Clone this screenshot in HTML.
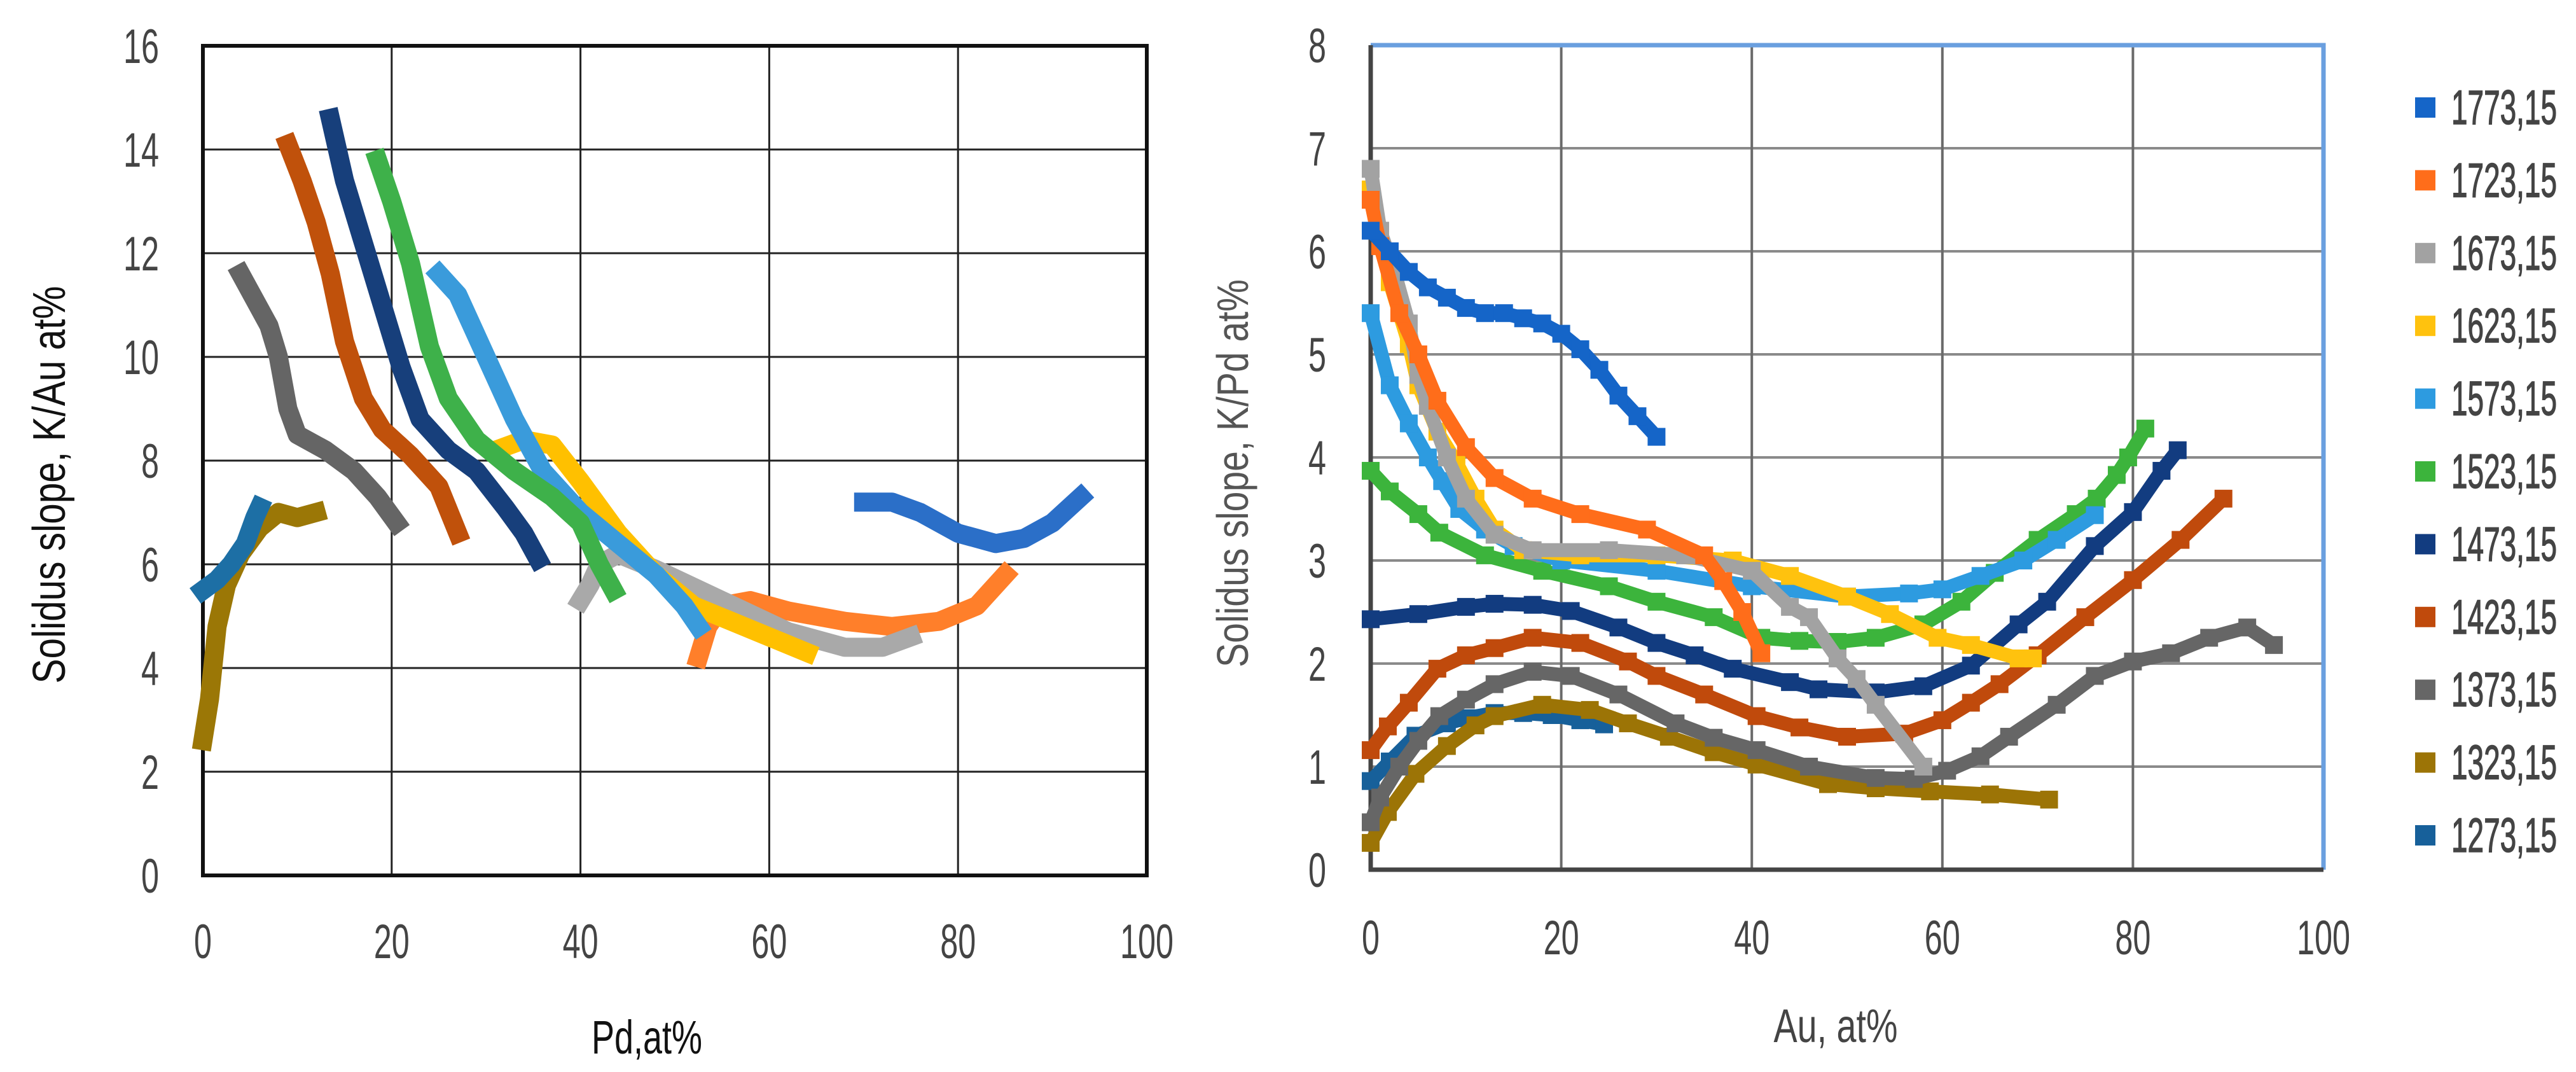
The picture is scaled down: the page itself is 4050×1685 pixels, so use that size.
<!DOCTYPE html>
<html><head><meta charset="utf-8"><style>
html,body{margin:0;padding:0;background:#fff;}
svg{display:block;}
text{font-family:"Liberation Sans Narrow","Liberation Sans",sans-serif;}
</style></head><body>
<svg id="fig" width="4050" height="1685" viewBox="0 0 4050 1685" xmlns="http://www.w3.org/2000/svg">
<rect x="0" y="0" width="4050" height="1685" fill="#fff"/>
<g id="left"></g>
<g id="right"></g>
</svg>
<script>
// ---------- Left chart data (Pd, at% vs slope K/Au at%) ----------
const leftSeriesNames = ["1773,15","1723,15","1673,15","1623,15","1573,15","1523,15","1473,15","1423,15","1373,15","1323,15","1273,15"];
const leftX1773 = [70,73,76,80,84,87,90,93];
const leftY1773 = [7.2,7.2,7.0,6.6,6.4,6.5,6.8,7.3];
const leftX1723 = [52.5,53.5,55,58,62,68,73,78,82,85];
const leftY1723 = [4.2,4.8,5.2,5.3,5.1,4.9,4.8,4.9,5.2,5.8];
const leftX1673 = [40,41,42,44,48,55,62,68,72,75];
const leftY1673 = [5.3,5.6,6.0,6.2,5.9,5.3,4.7,4.4,4.4,4.6];
const leftX1623 = [31,34,37,40,44,48,52,56,60,64];
const leftY1623 = [8.2,8.4,8.3,7.6,6.6,5.8,5.2,4.9,4.6,4.3];
const leftX1573 = [25,27,30,33,36,40,44,48,51,52.5];
const leftY1573 = [11.6,11.2,10.0,8.8,7.8,7.0,6.4,5.8,5.2,4.8];
const leftX1523 = [18.5,20,22,24,26,29,33,37,40,42,43.5];
const leftY1523 = [13.8,13.0,11.8,10.2,9.2,8.4,7.8,7.3,6.8,6.0,5.5];
const leftX1473 = [13.5,15,17,19,21,23,26,29,32,34,35.5];
const leftY1473 = [14.6,13.4,12.2,11.0,9.8,8.8,8.2,7.8,7.1,6.6,6.1];
const leftX1423 = [9,10.5,12,13.5,15,17,19,22,25,27];
const leftY1423 = [14.1,13.4,12.6,11.6,10.3,9.2,8.6,8.1,7.5,6.6];
const leftX1373 = [4,5.5,7,8,9,10,13,16,18.5,20.5];
const leftY1373 = [11.6,11.1,10.6,10.0,9.0,8.5,8.2,7.8,7.3,6.8];
const leftX1323 = [0,0.7,1.5,2.5,4,6,8,10,12];
const leftY1323 = [2.6,3.4,4.8,5.6,6.2,6.7,7.0,6.9,7.0];
const leftX1273 = [0,1.5,3,4.5,5.5,6];
const leftY1273 = [5.5,5.7,6.0,6.4,6.9,7.1];
const leftXTicks = ["0","20","40","60","80","100"];
const leftYTicks = ["0","2","4","6","8","10","12","14","16"];

// ---------- Right chart data (Au, at% vs slope K/Pd at%) ----------
const rightSeriesNames = ["1773,15","1723,15","1673,15","1623,15","1573,15","1523,15","1473,15","1423,15","1373,15","1323,15","1273,15"];
const rightX1773 = [0,2,4,6,8,10,12,14,16,18,20,22,24,26,28,30];
const rightY1773 = [6.2,6.0,5.8,5.65,5.55,5.45,5.4,5.4,5.35,5.3,5.2,5.05,4.85,4.6,4.4,4.2];
const rightX1723 = [0,1,3,5,7,10,13,17,22,29,35,37,39,41];
const rightY1723 = [6.5,6.05,5.4,5.0,4.55,4.1,3.8,3.6,3.45,3.3,3.05,2.8,2.5,2.1];
const rightX1673 = [0,1,2.5,4,5,6,8,10,13,17,25,33,40,44,46,49,51,53,58];
const rightY1673 = [6.8,6.2,5.8,5.3,4.8,4.5,4.0,3.6,3.25,3.1,3.1,3.05,2.9,2.55,2.45,2.05,1.85,1.6,1.0];
const rightX1623 = [0,2,4,5,7,9,11,13,16,22,30,38,44,50,54.5,59.5,63,68,69.5];
const rightY1623 = [6.6,5.7,5.1,4.7,4.25,3.95,3.6,3.3,3.1,3.05,3.05,3.0,2.85,2.65,2.48,2.25,2.18,2.05,2.05];
const rightX1573 = [0,2,4,6,7.5,9.3,12,15,20,30,40,50,56.5,60,64,68.5,72,76];
const rightY1573 = [5.4,4.7,4.33,4.0,3.77,3.5,3.3,3.14,3.0,2.9,2.75,2.65,2.68,2.72,2.85,3.0,3.2,3.44];
const rightX1523 = [0,2,5,7.2,12,18,25,30,36,41,45,49,53,58,62,65.5,70,74,76.2,78.3,79.5,81.3];
const rightY1523 = [3.87,3.67,3.45,3.27,3.05,2.9,2.75,2.6,2.45,2.25,2.22,2.21,2.25,2.38,2.6,2.88,3.2,3.45,3.6,3.83,4.0,4.28];
const rightX1473 = [0,5,10,13,17,21,26,30,34,38,44,47,53,58,63,68,71,76,80,83,84.7];
const rightY1473 = [2.43,2.48,2.55,2.58,2.57,2.51,2.35,2.2,2.08,1.95,1.82,1.75,1.72,1.78,1.98,2.38,2.6,3.14,3.47,3.87,4.07];
const rightX1423 = [0,1.8,4,7,10,13,17,22,27,30,35,40.5,45,50,56,60,63,66,70,75,80,85,89.5];
const rightY1423 = [1.16,1.39,1.62,1.95,2.08,2.15,2.25,2.2,2.02,1.88,1.7,1.49,1.38,1.29,1.32,1.45,1.62,1.8,2.08,2.45,2.81,3.2,3.6];
const rightX1373 = [0,1,3,5,7.2,10,13,17,21,26,32,36,40.5,46,53,57,60.5,64,67,72,76,80,84,88,92,94.8];
const rightY1373 = [0.46,0.7,1.0,1.25,1.49,1.65,1.8,1.92,1.88,1.7,1.42,1.28,1.16,1.0,0.89,0.88,0.96,1.1,1.29,1.6,1.88,2.02,2.1,2.25,2.35,2.18];
const rightX1323 = [0,1.8,4.7,8,11,13,18,23,27,31.3,36,40.5,48,53,58.7,65,71.2];
const rightY1323 = [0.26,0.56,0.93,1.2,1.4,1.49,1.6,1.55,1.42,1.29,1.14,1.02,0.83,0.79,0.76,0.73,0.68];
const rightX1273 = [0,2,4.7,8,10,13,16,19,22,24.5];
const rightY1273 = [0.86,1.05,1.3,1.42,1.47,1.52,1.52,1.5,1.45,1.41];
const rightXTicks = ["0","20","40","60","80","100"];
const rightYTicks = ["0","1","2","3","4","5","6","7","8"];

const leftColors = ["#2b6fc8","#ff7f2a","#a9a9a9","#ffc000","#3a9bdb","#3eb14a","#173f7b","#c0510b","#656565","#9b7706","#1d6fa5"];
const rightColors = ["#1565c8","#ff6d1a","#a2a2a2","#ffc20e","#2d9be0","#3cb43c","#123c80","#c04a0c","#666666","#9c7406","#17609a"];

const NS = "http://www.w3.org/2000/svg";
function mk(tag, attrs, parent){
  const e = document.createElementNS(NS, tag);
  for (const k in attrs) e.setAttribute(k, attrs[k]);
  parent.appendChild(e);
  return e;
}
const DIGW = 28;

// ---------- Left chart ----------
const L = {x0:319, x1:1803, y0:1376, y1:72, xmax:100, ymax:16};
function lx(v){ return L.x0 + v/L.xmax*(L.x1-L.x0); }
function ly(v){ return L.y0 - v/L.ymax*(L.y0-L.y1); }
const gL = document.getElementById('left');
leftYTicks.forEach(function(t){
  const v = parseFloat(t);
  const ln = mk('line',{x1:L.x0,x2:L.x1,y1:ly(v),y2:ly(v),stroke:'#222','stroke-width':3},gL);
  
  
  const tx = mk('text',{x:250,y:ly(v)+27,'text-anchor':'end','font-size':76,fill:'#444',textLength:DIGW*t.length,lengthAdjust:'spacingAndGlyphs'},gL);
  tx.textContent = t;
  
  
});
leftXTicks.forEach(function(t){
  const v = parseFloat(t);
  const ln = mk('line',{x1:lx(v),x2:lx(v),y1:L.y1,y2:L.y0,stroke:'#222','stroke-width':3},gL);
  
  
  const tx = mk('text',{x:lx(v),y:1506,'text-anchor':'middle','font-size':76,fill:'#444',textLength:DIGW*t.length,lengthAdjust:'spacingAndGlyphs'},gL);
  tx.textContent = t;
  
  
});
const frL = mk('rect',{x:L.x0,y:L.y1,width:L.x1-L.x0,height:L.y0-L.y1,fill:'none',stroke:'#111','stroke-width':6},gL);


const leftXs=[leftX1773,leftX1723,leftX1673,leftX1623,leftX1573,leftX1523,leftX1473,leftX1423,leftX1373,leftX1323,leftX1273];
const leftYs=[leftY1773,leftY1723,leftY1673,leftY1623,leftY1573,leftY1523,leftY1473,leftY1423,leftY1373,leftY1323,leftY1273];
leftXs.forEach(function(xs,i){
  const pts = xs.map(function(x,j){return lx(x)+','+ly(leftYs[i][j]);}).join(' ');
  const pl = mk('polyline',{points:pts,fill:'none',stroke:leftColors[i],'stroke-width':30,'stroke-linejoin':'round','stroke-linecap':'square'},gL);
  
  
});
const ltY = mk('text',{x:0,y:0,'text-anchor':'middle','font-size':72,fill:'#111',transform:'translate(102,762) rotate(-90)',textLength:625,lengthAdjust:'spacingAndGlyphs'},gL);
ltY.textContent='Solidus slope, K/Au at%';


const ltX = mk('text',{x:1017,y:1656,'text-anchor':'middle','font-size':74,fill:'#111',textLength:174,lengthAdjust:'spacingAndGlyphs'},gL);
ltX.textContent='Pd,at%';



// ---------- Right chart ----------
const R = {x0:2155, x1:3653, y0:1367, y1:71, xmax:100, ymax:8};
function rx(v){ return R.x0 + v/R.xmax*(R.x1-R.x0); }
function ry(v){ return R.y0 - v/R.ymax*(R.y0-R.y1); }
const gR = document.getElementById('right');
rightYTicks.forEach(function(t){
  const v = parseFloat(t);
  const ln = mk('line',{x1:R.x0,x2:R.x1,y1:ry(v),y2:ry(v),stroke:'#8a8a8a','stroke-width':4},gR);
  
  
  const tx = mk('text',{x:2071,y:ry(v)+27,'text-anchor':'middle','font-size':76,fill:'#444',textLength:DIGW*t.length,lengthAdjust:'spacingAndGlyphs'},gR);
  tx.textContent = t;
  
  
});
rightXTicks.forEach(function(t){
  const v = parseFloat(t);
  const ln = mk('line',{x1:rx(v),x2:rx(v),y1:R.y1,y2:R.y0,stroke:'#6a6a6a','stroke-width':4},gR);
  
  
  const tx = mk('text',{x:rx(v),y:1500,'text-anchor':'middle','font-size':76,fill:'#444',textLength:DIGW*t.length,lengthAdjust:'spacingAndGlyphs'},gR);
  tx.textContent = t;
  
  
});
const topB = mk('path',{d:'M'+R.x0+' '+R.y1+' H'+R.x1+' V'+R.y0,fill:'none',stroke:'#6a9fdf','stroke-width':7},gR);


const axL = mk('path',{d:'M'+R.x0+' '+R.y1+' V'+R.y0+' H'+R.x1,fill:'none',stroke:'#444','stroke-width':7},gR);


const rightXs=[rightX1773,rightX1723,rightX1673,rightX1623,rightX1573,rightX1523,rightX1473,rightX1423,rightX1373,rightX1323,rightX1273];
const rightYs=[rightY1773,rightY1723,rightY1673,rightY1623,rightY1573,rightY1523,rightY1473,rightY1423,rightY1373,rightY1323,rightY1273];
const drawOrder=[10,9,8,7,6,5,4,3,2,1,0];
drawOrder.forEach(function(i){
  const xs = rightXs[i];
  const g = mk('g',{},gR);
  
  
  const pts = xs.map(function(x,j){return rx(x)+','+ry(rightYs[i][j]);}).join(' ');
  const pl = mk('polyline',{points:pts,fill:'none',stroke:rightColors[i],'stroke-width':22,'stroke-linejoin':'round'},g);
  
  
  xs.forEach(function(x,j){
    const r = mk('rect',{x:rx(x)-14,y:ry(rightYs[i][j])-14,width:28,height:28,fill:rightColors[i]},g);
    
    
  });
});
const rtY = mk('text',{x:0,y:0,'text-anchor':'middle','font-size':70,fill:'#555',transform:'translate(1962,744) rotate(-90)',textLength:610,lengthAdjust:'spacingAndGlyphs'},gR);
rtY.textContent='Solidus slope, K/Pd at%';


const rtX = mk('text',{x:2886,y:1638,'text-anchor':'middle','font-size':74,fill:'#444',textLength:195,lengthAdjust:'spacingAndGlyphs'},gR);
rtX.textContent='Au, at%';



// legend
rightSeriesNames.forEach(function(n,i){
  const cy = 168 + i*114.4;
  const g = mk('g',{},gR);
  
  
  const m = mk('rect',{x:3797,y:cy-15,width:32,height:32,fill:rightColors[i]},g);
  
  
  const t = mk('text',{x:3854,y:cy+27,'font-size':76,fill:'#444',stroke:'#444','stroke-width':1.5,textLength:166,lengthAdjust:'spacingAndGlyphs'},g);
  t.textContent = n;
  
  
});
</script>
</body></html>
